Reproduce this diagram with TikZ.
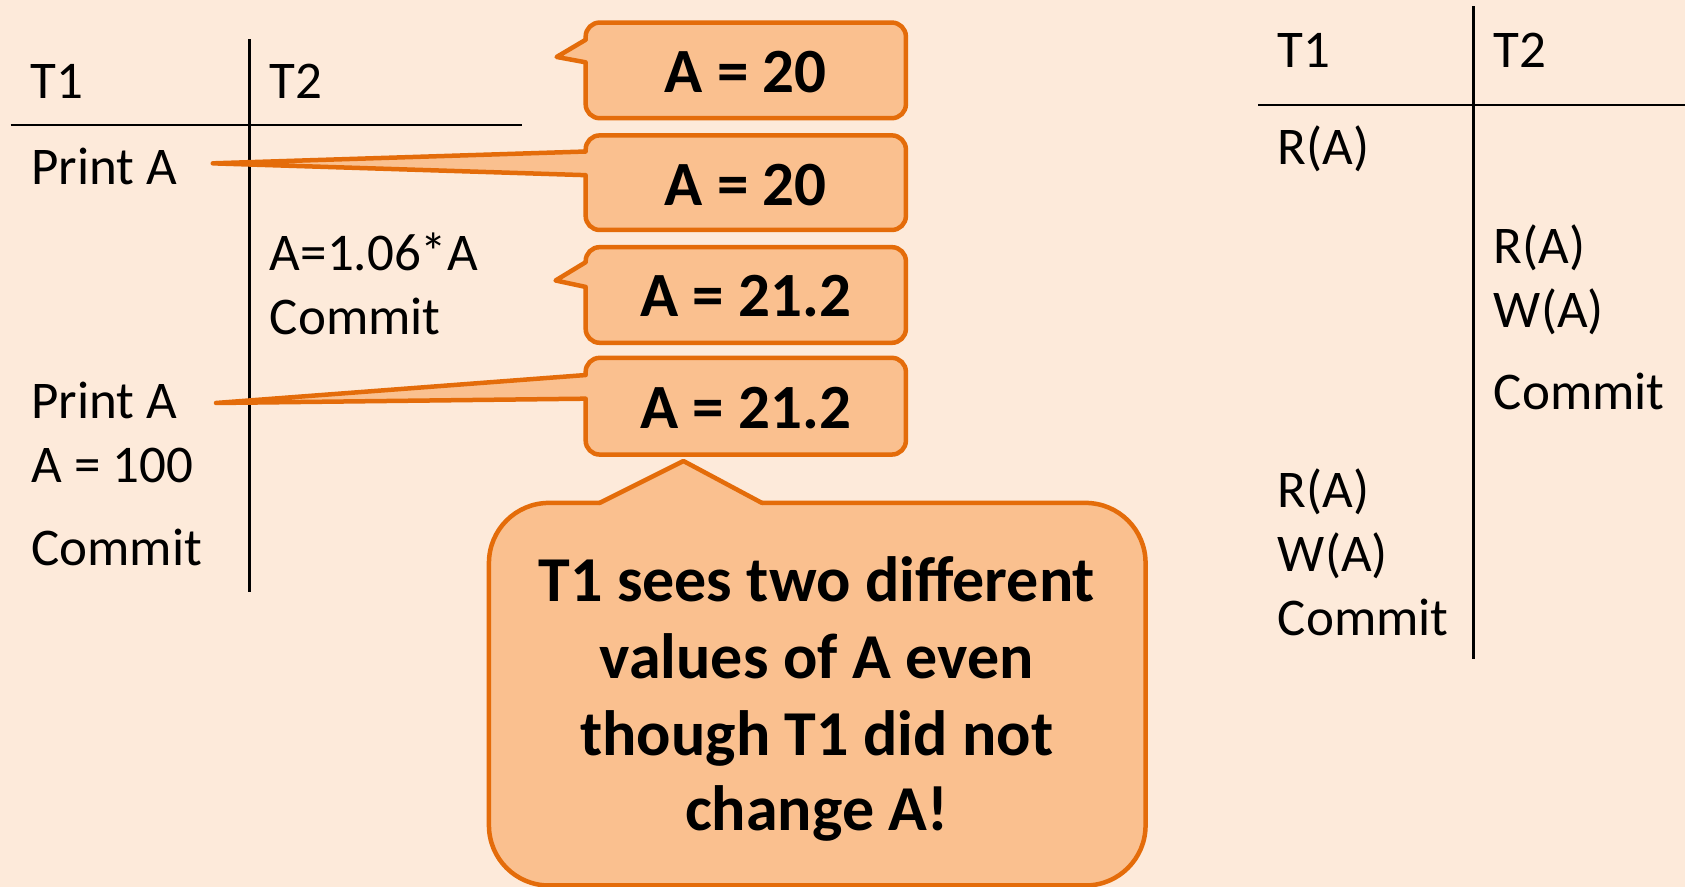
\documentclass[tikz,border=0pt]{standalone}
\usepackage{fontspec}
\setmainfont{Carlito}
\definecolor{pagebg}{RGB}{253,234,218}
\definecolor{calloutfill}{RGB}{250,192,143}
\definecolor{calloutedge}{RGB}{228,108,10}
\begin{document}
\begin{tikzpicture}[x=1.0746pt,y=-1.0746pt,
  cell/.style={anchor=base west,inner sep=0pt,font=\fontsize{53}{64}\selectfont},
  val/.style={anchor=base,inner sep=0pt,font=\fontsize{63}{76}\selectfont\bfseries},
  note/.style={anchor=base,inner sep=0pt,font=\fontsize{64}{76}\selectfont\bfseries},
  rule/.style={line width=2.6pt,black},
  bubble/.style={draw=calloutedge,fill=calloutfill,line width=4.5pt},
  tailfill/.style={fill=calloutfill},
  tailedge/.style={draw=calloutedge,line width=4.5pt,line join=round,line cap=round}]

% page background
\fill[pagebg] (0,0) rectangle (1568,825);
\useasboundingbox (0,0) rectangle (1568,825);

% ---------- left schedule ----------
\draw[rule] (10,116.5) -- (486,116.5);
\draw[rule] (232.4,36.7) -- (232.4,551);
\node[cell] (lt1)   at (28,92)    {T1};
\node[cell] (lt2)   at (251,92)   {T2};
\node[cell] (lp1)   at (29,172)   {Print A};
\node[cell] (lmul)  at (251,252)  {A=1.06*A};
\node[cell] (lc2)   at (251,311.6){Commit};
\node[cell] (lp2)   at (29,389)   {Print A};
\node[cell] (la100) at (29,449)   {A = 100};
\node[cell] (lc1)   at (29,526)   {Commit};

% ---------- right schedule ----------
\draw[rule] (1171,97.7) -- (1568,97.7);
\draw[rule] (1371,6) -- (1371,613);
\node[cell] (rt1)  at (1189,62.5)  {T1};
\node[cell] (rt2)  at (1390,62.5)  {T2};
\node[cell] (rr1)  at (1189,153.4) {R(A)};
\node[cell] (rr2)  at (1390,245.4) {R(A)};
\node[cell] (rw2)  at (1390,304.7) {W(A)};
\node[cell] (rc2)  at (1390,381.4) {Commit};
\node[cell] (rr1b) at (1189,472.2) {R(A)};
\node[cell] (rw1)  at (1189,531.9) {W(A)};
\node[cell] (rc1)  at (1189,591.2) {Commit};

% ---------- value callouts ----------
\coordinate (tip1) at (518,53);
\coordinate (tip2) at (198,152);
\coordinate (tip3) at (517,261);
\coordinate (tip4) at (201,375);

% box 1
\draw[bubble,rounded corners=14pt] (545,21) rectangle (843,110);
\fill[tailfill] (tip1) -- (545,37) -- (551,37) -- (551,58) -- (545,58) -- cycle;
\draw[tailedge] (545,37) -- (tip1) -- (545,58);
% box 2
\draw[bubble,rounded corners=14pt] (545,126) rectangle (843,214);
\fill[tailfill] (tip2) -- (545,141) -- (551,141) -- (551,163) -- (545,163) -- cycle;
\draw[tailedge] (545,141) -- (tip2) -- (545,163);
% box 3
\draw[bubble,rounded corners=14pt] (545,230) rectangle (843,319);
\fill[tailfill] (tip3) -- (545,244) -- (551,244) -- (551,267) -- (545,267) -- cycle;
\draw[tailedge] (545,244) -- (tip3) -- (545,267);
% box 4
\draw[bubble,rounded corners=14pt] (545,333) rectangle (843,423);
\fill[tailfill] (tip4) -- (545,349) -- (551,349) -- (551,371) -- (545,371) -- cycle;
\draw[tailedge] (545,349) -- (tip4) -- (545,371);

\node[val] (v1) at (694,86.2)  {A = 20};
\node[val] (v2) at (694,190.8) {A = 20};
\node[val] (v3) at (694,294.7) {A = 21.2};
\node[val] (v4) at (694,398.6) {A = 21.2};

% ---------- remark bubble ----------
\coordinate (tip5) at (636,429);
\draw[bubble,rounded corners=60pt] (455,468) rectangle (1066,824);
\fill[tailfill] (tip5) -- (558,468) -- (558,474) -- (709,474) -- (709,468) -- cycle;
\draw[tailedge] (558,468) -- (tip5) -- (709,468);

\node[note] (n1) at (760,560)   {T1 sees two different};
\node[note] (n2) at (760,631.2) {values of A even};
\node[note] (n3) at (760,702.6) {though T1 did not};
\node[note] (n4) at (760,772.4) {change A!};
\end{tikzpicture}
\end{document}
